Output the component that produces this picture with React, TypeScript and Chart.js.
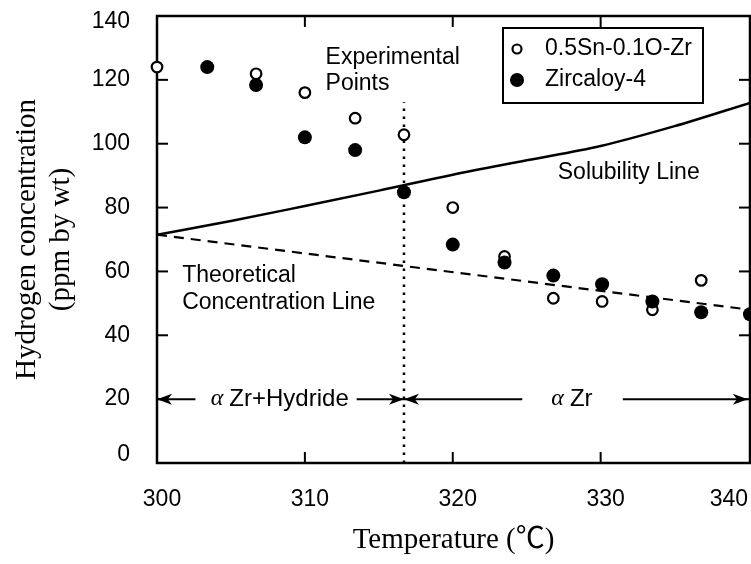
import React, { useEffect, useRef } from "react";
import { Chart, registerables } from "chart.js";
Chart.register(...registerables);

// ---- data ----
const xTicks = [300, 310, 320, 330, 340];
const yTicks = [0, 20, 40, 60, 80, 100, 120, 140];

const hollowLabel = "0.5Sn-0.1O-Zr";
const hollowX = [300, 306.7, 310, 313.4, 316.7, 320, 323.5, 326.8, 330.1, 333.5, 336.8];
const hollowY = [124, 121.9, 116, 108, 102.8, 80, 64.7, 51.6, 50.6, 48, 57.2];

const filledLabel = "Zircaloy-4";
const filledX = [303.4, 306.7, 310, 313.4, 316.7, 320, 323.5, 326.8, 330.1, 333.5, 336.8, 340.1];
const filledY = [124, 118.4, 102, 98, 84.8, 68.4, 62.8, 58.7, 56, 50.6, 47.2, 46.6];

const solubilityX = [300, 305, 310, 315, 320, 325, 330, 335, 340.1];
const solubilityY = [71.5, 75.8, 80.5, 85.3, 90.3, 94.8, 99.3, 105.5, 112.8];

const theoreticalX = [300, 340.1];
const theoreticalY = [71.5, 48];

const boundaryX = [316.7, 316.7];
const boundaryY = [0, 113];

const arrowY = 20;

const SANS = '"Liberation Sans", Arial, sans-serif';
const SERIF = '"Liberation Serif", "Times New Roman", "Noto Sans CJK KR", serif';

const pts = (xs: number[], ys: number[]) => xs.map((v, i) => ({ x: v, y: ys[i] }));

const decorPlugin = {
  id: "decor",
  beforeDatasetsDraw(chart: any) {
    const { ctx, chartArea: ca, scales } = chart;
    const x = scales.x;
    const y = scales.y;
    const X = (v: number) => x.getPixelForValue(v);
    const Y = (v: number) => y.getPixelForValue(v);
    ctx.save();
    ctx.strokeStyle = "#000";
    ctx.fillStyle = "#000";
    ctx.lineWidth = 2.5;
    ctx.strokeRect(ca.left, ca.top, ca.right - ca.left, ca.bottom - ca.top);
    const tl = 11;
    const seg = (x1: number, y1: number, x2: number, y2: number) => {
      ctx.beginPath();
      ctx.moveTo(x1, y1);
      ctx.lineTo(x2, y2);
      ctx.stroke();
    };
    ctx.lineWidth = 2;
    x.ticks.forEach((t: any) => {
      if (t.value <= x.min + 0.5 || t.value >= x.max - 0.5) return;
      const px = X(t.value);
      seg(px, ca.bottom, px, ca.bottom - tl);
      seg(px, ca.top, px, ca.top + tl);
    });
    y.ticks.forEach((t: any) => {
      if (t.value <= y.min + 0.5 || t.value >= y.max - 0.5) return;
      const py = Y(t.value);
      seg(ca.left, py, ca.left + tl, py);
      seg(ca.right, py, ca.right - tl, py);
    });

    // tick labels (from the scales' ticks)
    ctx.font = `23px ${SANS}`;
    ctx.textBaseline = "middle";
    ctx.textAlign = "right";
    y.ticks.forEach((t: any) => {
      const py = Math.min(Math.max(Y(t.value), ca.top + 6), ca.bottom - 8);
      ctx.fillText(String(t.value), ca.left - 27, py);
    });
    ctx.textAlign = "center";
    x.ticks.forEach((t: any) => {
      const s = String(t.value);
      const w = ctx.measureText(s).width;
      let cx = X(t.value) + 5;
      if (cx + w / 2 > ca.right - 2) cx = ca.right - 2 - w / 2;
      ctx.fillText(s, cx, ca.bottom + 37);
    });

    // text annotations
    ctx.font = `23px ${SANS}`;
    ctx.textAlign = "left";
    ctx.textBaseline = "middle";
    ctx.fillText("Experimental", X(311.4), Y(126.9));
    ctx.fillText("Points", X(311.4), Y(118.8));
    ctx.fillText("Solubility Line", X(327.1), Y(91));
    ctx.fillText("Theoretical", X(301.7), Y(58.8));
    ctx.fillText("Concentration Line", X(301.7), Y(50.3));

    // arrows
    const ay = Y(arrowY);
    const head = (tip: number, dir: number) => {
      const L = 15, W = 5.5;
      ctx.beginPath();
      ctx.moveTo(tip, ay);
      ctx.lineTo(tip - dir * L, ay - W);
      ctx.lineTo(tip - dir * L * 0.72, ay);
      ctx.lineTo(tip - dir * L, ay + W);
      ctx.closePath();
      ctx.fill();
    };
    ctx.lineWidth = 2;
    const arrow = (from: number, to: number) => {
      const a = X(from), b = X(to);
      seg(a, ay, b, ay);
      head(b, b > a ? 1 : -1);
    };
    arrow(302.6, 300);
    arrow(313.5, 316.7);
    arrow(324.7, 316.7);
    arrow(331.5, 339.95);

    const label = (rest: string, cx: number) => {
      ctx.font = `italic 24px ${SERIF}`;
      const wa = ctx.measureText("\u03b1").width;
      ctx.font = `24px ${SANS}`;
      const wr = ctx.measureText(rest).width;
      const gap = 6;
      const start = X(cx) - (wa + gap + wr) / 2;
      ctx.textAlign = "left";
      ctx.font = `italic 24px ${SERIF}`;
      ctx.fillText("\u03b1", start, ay);
      ctx.font = `24px ${SANS}`;
      ctx.fillText(rest, start + wa + gap, ay);
    };
    label("Zr+Hydride", 308.3);
    label("Zr", 328.06);
    ctx.restore();
  },
  afterDatasetsDraw(chart: any) {
    const { ctx, chartArea: ca } = chart;
    ctx.save();
    const bx = ca.right - 247, by = ca.top + 12, bw = 200, bh = 75;
    ctx.fillStyle = "#fff";
    ctx.fillRect(bx, by, bw, bh);
    ctx.strokeStyle = "#000";
    ctx.lineWidth = 2;
    ctx.strokeRect(bx, by, bw, bh);
    const mx = bx + 14;
    const r1y = by + 21, r2y = by + 52;
    ctx.beginPath();
    ctx.arc(mx, r1y, 4.5, 0, Math.PI * 2);
    ctx.fillStyle = "#fff";
    ctx.fill();
    ctx.lineWidth = 2.2;
    ctx.stroke();
    ctx.beginPath();
    ctx.arc(mx, r2y, 7, 0, Math.PI * 2);
    ctx.fillStyle = "#000";
    ctx.fill();
    ctx.font = `23px ${SANS}`;
    ctx.textAlign = "left";
    ctx.textBaseline = "middle";
    ctx.fillText(hollowLabel, bx + 42, r1y);
    ctx.fillText(filledLabel, bx + 42, r2y);
    ctx.restore();
  },
};

export default function App() {
  const ref = useRef<HTMLCanvasElement | null>(null);
  useEffect(() => {
    if (!ref.current) return;
    const chart = new Chart(ref.current, {
      type: "scatter",
      data: {
        datasets: [
          {
            label: filledLabel,
            data: pts(filledX, filledY),
            pointRadius: 7,
            pointBackgroundColor: "#000",
            pointBorderColor: "#000",
            pointBorderWidth: 0,
            showLine: false,
            order: 0,
            clip: false,
          } as any,
          {
            label: hollowLabel,
            data: pts(hollowX, hollowY),
            pointRadius: 5.3,
            pointBackgroundColor: "#fff",
            pointBorderColor: "#000",
            pointBorderWidth: 2.2,
            showLine: false,
            order: 0,
            clip: false,
          },
          {
            label: "Solubility Line",
            data: pts(solubilityX, solubilityY),
            showLine: true,
            borderColor: "#000",
            borderWidth: 2.5,
            pointRadius: 0,
            cubicInterpolationMode: "monotone",
            order: 1,
          },
          {
            label: "Theoretical Concentration Line",
            data: pts(theoreticalX, theoreticalY),
            showLine: true,
            borderColor: "#000",
            borderWidth: 2.2,
            borderDash: [10, 7],
            pointRadius: 0,
            order: 1,
          },
          {
            label: "boundary",
            data: pts(boundaryX, boundaryY),
            showLine: true,
            borderColor: "#000",
            borderWidth: 2.5,
            borderDash: [2.5, 5.5],
            pointRadius: 0,
            order: 1,
          },
        ],
      },
      options: {
        responsive: false,
        animation: false,
        devicePixelRatio: 1,
        layout: { autoPadding: false, padding: { top: 16, right: 1, left: 0, bottom: 0 } },
        plugins: { legend: { display: false }, tooltip: { enabled: false } },
        scales: {
          x: {
            type: "linear",
            min: 300,
            max: 340.1,
            grid: { display: false, drawTicks: false },
            border: { display: false },
            afterBuildTicks: (s: any) => {
              s.ticks = xTicks.map((v) => ({ value: v }));
            },
            afterFit: (s: any) => {
              s.height = 101;
              s.paddingLeft = 0;
              s.paddingRight = 0;
            },
            ticks: { display: false },
            title: {
              display: true,
              text: "Temperature (\u2103)",
              color: "#000",
              font: { family: SERIF, size: 29, lineHeight: 1.2 },
              padding: { top: 0, bottom: 6 },
            },
          },
          y: {
            type: "linear",
            min: 0,
            max: 140,
            grid: { display: false, drawTicks: false },
            border: { display: false },
            afterBuildTicks: (s: any) => {
              s.ticks = yTicks.map((v) => ({ value: v }));
            },
            afterFit: (s: any) => {
              s.width = 157;
              s.paddingTop = 0;
              s.paddingBottom = 0;
            },
            ticks: { display: false },
            title: {
              display: true,
              text: ["Hydrogen concentration", "(ppm by wt)"],
              color: "#000",
              font: { family: SERIF, size: 29, lineHeight: 1.2 },
              padding: { top: 9.5, bottom: 0 },
            },
          },
        },
      },
      plugins: [decorPlugin],
    } as any);
    return () => chart.destroy();
  }, []);
  return (
    <div style={{ position: "fixed", left: 0, top: 0, width: 751, height: 564, background: "#fff" }}>
      <canvas ref={ref} width={751} height={564} style={{ width: 751, height: 564, display: "block" }} />
    </div>
  );
}
